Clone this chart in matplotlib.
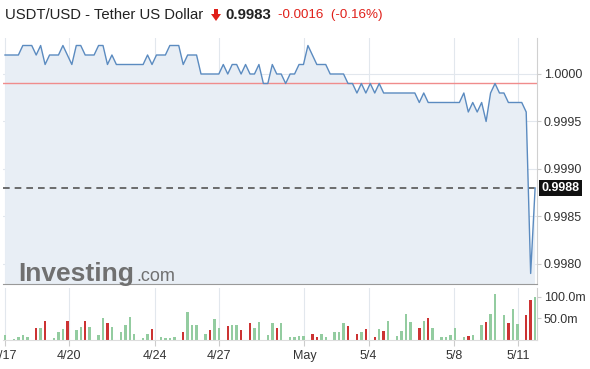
import numpy as np
import pandas as pd
import matplotlib
matplotlib.use('Agg')
import matplotlib.pyplot as plt
import matplotlib.dates as mdates
import matplotlib.transforms as mtransforms
from matplotlib.patches import Polygon

plt.rcParams['font.family'] = ['Liberation Sans', 'DejaVu Sans']

# USDT/USD close, one point every 5 hours from 2020-04-17 00:00
price = [1.0002, 1.0002, 1.0002, 1.0002, 1.0003, 1.0003, 1.0003, 1.0002, 1.0003, 1.0001,
         1.0002, 1.0002, 1.0002, 1.0003, 1.0002, 1.0001, 1.0003, 1.0003, 1.0002, 1.0002,
         1.0002, 1.0003, 1.0003, 1.0001, 1.0002, 1.0001, 1.0001, 1.0001, 1.0001, 1.0001,
         1.0001, 1.0001, 1.0002, 1.0001, 1.0002, 1.0002, 1.0002, 1.0003, 1.0003, 1.0003,
         1.0001, 1.0002, 1.0002, 1.0002, 1.0000, 1.0000, 1.0000, 1.0000, 1.0000, 1.0001,
         1.0000, 1.0001, 1.0001, 1.0000, 1.0001, 1.0000, 1.0000, 1.0001, 0.9999, 0.9999,
         1.0001, 1.0000, 1.0000, 0.9999, 1.0000, 1.0000, 1.0001, 1.0001, 1.0003, 1.0002,
         1.0001, 1.0001, 1.0001, 1.0000, 1.0000, 1.0000, 1.0000, 0.9999, 0.9999, 0.9998,
         0.9999, 0.9998, 0.9999, 0.9998, 0.9999, 0.9998, 0.9998, 0.9998, 0.9998, 0.9998,
         0.9998, 0.9998, 0.9998, 0.9997, 0.9998, 0.9997, 0.9997, 0.9997, 0.9997, 0.9997,
         0.9997, 0.9997, 0.9997, 0.9998, 0.9996, 0.9997, 0.9996, 0.9997, 0.9995, 0.9998,
         0.9999, 0.9998, 0.9998, 0.9997, 0.9997, 0.9997, 0.9997, 0.9996, 0.9979, 0.9988]

# volume in millions, same 5h slots
volume = [12, 0, 2, 6, 12, 8, 0, 29, 27, 45,
          0, 5, 19, 26, 45, 0, 23, 31, 45, 31,
          0, 12, 50, 40, 31, 0, 19, 35, 54, 13,
          0, 4, 13, 25, 0, 6, 5, 5, 6, 0,
          18, 64, 35, 35, 0, 14, 23, 49, 29, 0,
          33, 36, 36, 23, 0, 39, 27, 43, 0, 12,
          39, 29, 40, 0, 6, 8, 9, 10, 0, 14,
          6, 13, 6, 0, 18, 18, 39, 33, 0, 14,
          19, 25, 0, 6, 25, 22, 45, 0, 9, 21,
          60, 43, 0, 27, 45, 52, 27, 0, 6, 6,
          12, 27, 0, 6, 9, 12, 0, 35, 41, 60,
          107, 0, 57, 39, 72, 37, 0, 57, 93, 101]
vol_dir = ("G-GGGG-RGR" "-GGGR-GGRG" "-GGRG-GGGG" "-GGR-GGGG-"
           "RGGG-GRGG-" "RGGR-RGG-G" "GRG-GGGG-R" "RGG-GGGR-R"
           "GR-RGRG-GG" "GG-RGRG-GG" "GG-GRG-GRG" "G-GRGG-RRG")

prev_close = 0.9999
last = 0.9988
tick_dates = ['2020-04-17', '2020-04-20', '2020-04-24', '2020-04-27',
              '2020-05-01', '2020-05-04', '2020-05-08', '2020-05-11']
tick_labels = ['4/17', '4/20', '4/24', '4/27', 'May', '5/4', '5/8', '5/11']
price_ticks = [1.0000, 0.9995, 0.9990, 0.9985, 0.9980]

t = pd.date_range('2020-04-17', periods=len(price), freq='5h')
ticks = pd.to_datetime(tick_dates)
t0 = mdates.date2num(t[0])
xlim = (t0 - 0.094, t0 + 24.88)

W, H = 590, 369
fig = plt.figure(figsize=(W / 100, H / 100), dpi=100)
ax = fig.add_axes([3 / W, 1 - 284 / H, 534 / W, 246 / H])
axv = fig.add_axes([3 / W, 1 - 340 / H, 534 / W, 52 / H])

grid_c = '#e2e7ed'
ax.fill_between(t, price, 0.99, color='#e8eef5', lw=0, zorder=1)
ax.plot(t, price, color='#5b8bc0', lw=1, zorder=3)
ax.axhline(prev_close, color='#f08c8c', lw=1, zorder=2)
ax.axhline(last, color='#555555', lw=1.2, ls=(0, (4, 3)), zorder=2)
ax.set_xlim(xlim)
ax.set_ylim(0.997789, 1.000379)
ax.set_xticks(ticks)
ax.set_yticks(price_ticks)
ax.yaxis.set_major_formatter(matplotlib.ticker.FormatStrFormatter('%.4f'))
ax.grid(True, color=grid_c, lw=0.8, zorder=0)
ax.set_axisbelow(True)
ax.tick_params(axis='x', length=0, labelbottom=False)
ax.tick_params(axis='y', left=False, labelleft=False, right=True, labelright=True,
               length=3, color='#cccccc', labelsize=9, labelcolor='#333333', pad=2)
for s in ['top', 'left']:
    ax.spines[s].set_visible(False)
ax.spines['bottom'].set_color('#999999')
ax.spines['right'].set_color('#d0d0d0')

trans = mtransforms.blended_transform_factory(ax.transAxes, ax.transData)
ax.text(1.008, last, '%.4f' % last, transform=trans, ha='left', va='center',
        color='white', fontsize=9, weight='bold', zorder=5, clip_on=False,
        bbox=dict(boxstyle='square,pad=0.18', fc='#111111', ec='none'))

cols = ['#cc3333' if c == 'R' else '#93cca0' for c in vol_dir]
axv.bar(t, volume, width=5 / 24 * 0.55, color=cols, zorder=2)
axv.set_xlim(xlim)
axv.set_ylim(0, 120.9)
axv.set_xticks(ticks)
axv.set_xticklabels(tick_labels)
axv.set_yticks([50, 100])
axv.set_yticklabels(['50.0m', '100.0m'])
axv.grid(True, axis='x', color=grid_c, lw=0.8, zorder=0)
axv.set_axisbelow(True)
axv.tick_params(axis='x', length=4, color='#cccccc', labelsize=9,
                labelcolor='#333333', pad=3)
axv.tick_params(axis='y', left=False, labelleft=False, right=True, labelright=True,
                length=3, color='#cccccc', labelsize=9, labelcolor='#333333', pad=2)
for s in ['top', 'left']:
    axv.spines[s].set_visible(False)
axv.spines['bottom'].set_color('#dddddd')
axv.spines['right'].set_color('#d0d0d0')

# header
ty = 1 - 15 / H
fig.text(5 / W, ty, 'USDT/USD - Tether US Dollar', fontsize=10.7, color='#222222', va='center')
# thick down arrow, in pixel coords from top-left
arrow_px = [(214, 9), (218, 9), (218, 14), (221, 14), (216, 21), (211, 14), (214, 14)]
fig.patches.append(Polygon([(px / W, 1 - py / H) for px, py in arrow_px], closed=True,
                           transform=fig.transFigure, fc='#e0201a', ec='none'))
fig.text(225 / W, ty, '0.9983', fontsize=10.8, weight='bold', color='#222222', va='center')
fig.text(278 / W, ty, '-0.0016  (-0.16%)', fontsize=9.6, color='#e0201a', va='center')

# watermark
fig.text(18 / W, 1 - 281 / H, 'Investing', fontsize=19, weight='bold', color='#707070', va='baseline')
fig.text(136 / W, 1 - 281 / H, '.com', fontsize=13, color='#707070', va='baseline')

fig.savefig('out.png', dpi=100)
